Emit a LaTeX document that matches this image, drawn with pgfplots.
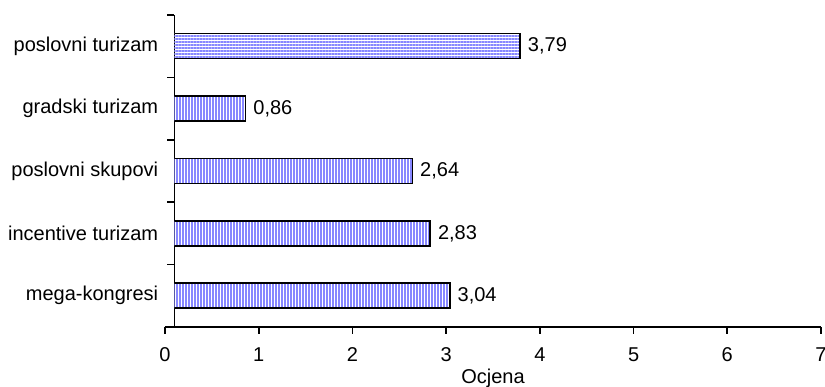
\documentclass[border=0pt]{standalone}
\usepackage{pgfplots}
\pgfplotsset{compat=1.18}
\usepackage{fontspec}
\setmainfont{Liberation Sans}
\usetikzlibrary{patterns.meta}
\definecolor{stripe}{RGB}{135,135,255}
\begin{document}
\begin{tikzpicture}
\begin{axis}[
  at={(0,0)}, anchor=south west,
  scale only axis, width=656pt, height=312pt,
  xmin=0, xmax=7, ymin=-0.5, ymax=4.5,
  axis x line*=bottom, axis y line*=left,
  axis y line shift=-9.4pt,
  axis line style={line width=1.6pt, -},
  every tick/.style={line width=1.6pt, black},
  tick align=outside,
  major tick length=7pt,
  font=\fontsize{20}{24}\selectfont,
  /pgf/number format/assume math mode=true,
  xtick={0,...,7},
  xticklabel style={anchor=center, yshift=-21pt},
  ytick={-0.5,0.5,1.5,2.5,3.5,4.5},
  yticklabels={},
  extra y ticks={0,1,2,3,4},
  extra y tick labels={mega-kongresi,incentive turizam,poslovni skupovi,gradski turizam,poslovni turizam},
  extra y tick style={major tick length=0pt, yticklabel style={anchor=east, inner sep=0pt, xshift=-16pt}},
  xlabel={Ocjena},
  xlabel style={at={(axis description cs:0.5,0)}, anchor=center, yshift=-51pt},
  clip=false,
  nodes near coords,
  point meta=x,
  nodes near coords style={anchor=west, inner sep=0pt, xshift=7pt, /pgf/number format/.cd, fixed, precision=2, fixed zerofill, use comma},
]
\begin{scope}
\clip (axis cs:0.1,-0.5) rectangle (axis cs:7.5,4.5);
\addplot[xbar, bar width=25pt, bar shift=0pt, draw=black, line width=1.6pt,
  pattern={Lines[angle=90,distance=3pt,line width=1.1pt]}, pattern color=stripe]
  coordinates {(3.04,0) (2.83,1) (2.64,2) (0.86,3)};
\addplot[xbar, bar width=25pt, bar shift=0pt, draw=black, line width=1.6pt,
  pattern={Lines[angle=0,distance=3pt,line width=1.1pt]}, pattern color=stripe]
  coordinates {(3.79,4)};
\end{scope}
\end{axis}
\pgfresetboundingbox
\path[use as bounding box] (-165pt,-60pt) rectangle (660pt,327pt);
\end{tikzpicture}
\end{document}
